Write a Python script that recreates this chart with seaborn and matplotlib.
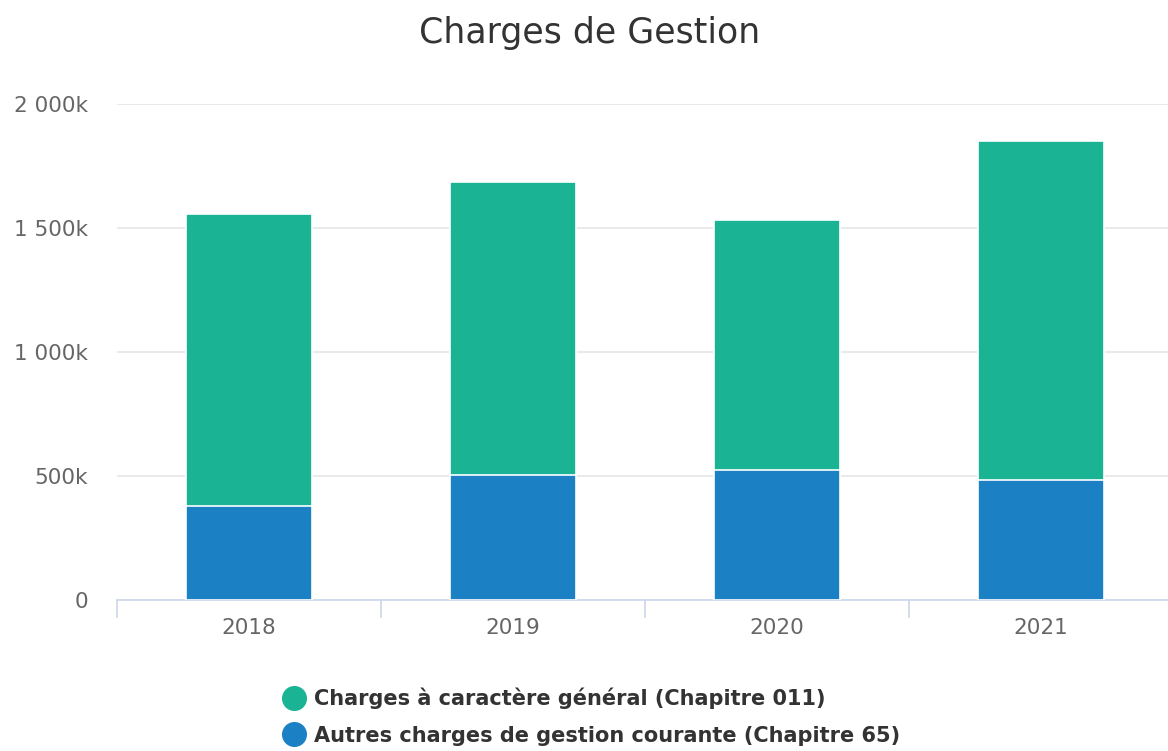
import matplotlib
matplotlib.use("Agg")
import matplotlib.pyplot as plt
from matplotlib.lines import Line2D
from matplotlib.ticker import FuncFormatter, FixedLocator
import seaborn as sns
import pandas as pd

years = ["2018", "2019", "2020", "2021"]
autres_charges = [379, 503, 526, 485]          # k€ (Chapitre 65)
charges_generales = [1178, 1184, 1005, 1364]    # k€ (Chapitre 011)
series_names = ["Charges à caractère général (Chapitre 011)",
                "Autres charges de gestion courante (Chapitre 65)"]
colors = ["#1ab394", "#1c80c4"]

sns.set_theme(style="white")
plt.rcParams["font.family"] = ["DejaVu Sans"]

df = pd.DataFrame({
    "year": years,
    "autres": autres_charges,
    "total": [a + g for a, g in zip(autres_charges, charges_generales)],
})

fig = plt.figure(figsize=(11.68, 7.51), dpi=100)
ax = fig.add_axes([117 / 1168, 1 - 600 / 751, (1173 - 117) / 1168, (600 - 104) / 751])

sns.barplot(data=df, x="year", y="total", color=colors[0], width=0.48,
            edgecolor="white", linewidth=1.2, ax=ax, saturation=1, zorder=3)
sns.barplot(data=df, x="year", y="autres", color=colors[1], width=0.48,
            edgecolor="white", linewidth=1.2, ax=ax, saturation=1, zorder=3)

ax.set_xlim(-0.5, 3.5)
ax.set_ylim(0, 2000)
ax.set_yticks([0, 500, 1000, 1500, 2000])
def fmt(v, pos):
    v = int(round(v))
    if v == 0:
        return "0"
    s = f"{v:,}".replace(",", " ")
    return s + "k"
ax.yaxis.set_major_formatter(FuncFormatter(fmt))
ax.yaxis.grid(True, color="#e6e6e6", linewidth=1.2, zorder=0)
ax.set_axisbelow(True)
ax.set_xlabel("")
ax.set_ylabel("")
for s in ["top", "right", "left"]:
    ax.spines[s].set_visible(False)
ax.spines["bottom"].set_color("#ccd6eb")
ax.spines["bottom"].set_linewidth(1.2)
ax.tick_params(axis="y", length=0, pad=21, labelsize=15.5, labelcolor="#666666")
ax.tick_params(axis="x", which="major", length=0, pad=13, labelsize=15.5, labelcolor="#666666")
ax.xaxis.set_minor_locator(FixedLocator([-0.5, 0.5, 1.5, 2.5, 3.5]))
ax.tick_params(axis="x", which="minor", bottom=True, length=13, width=1.2,
               color="#ccd6eb", direction="out")

fig.text(590 / 1168, 1 - 33 / 751, "Charges de Gestion", ha="center", va="center",
         fontsize=25, color="#333333")

handles = [Line2D([0], [0], marker="o", linestyle="", markersize=17,
                  markerfacecolor=c, markeredgecolor=c) for c in colors]
leg = fig.legend(handles, series_names, loc="upper left",
                 bbox_to_anchor=(273 / 1168, 1 - 677 / 751), frameon=False,
                 prop={"weight": "bold", "size": 15}, handletextpad=0.45,
                 labelspacing=0.8, handlelength=1.0, borderpad=0)
for t in leg.get_texts():
    t.set_color("#333333")

fig.savefig("out.png", dpi=100)
